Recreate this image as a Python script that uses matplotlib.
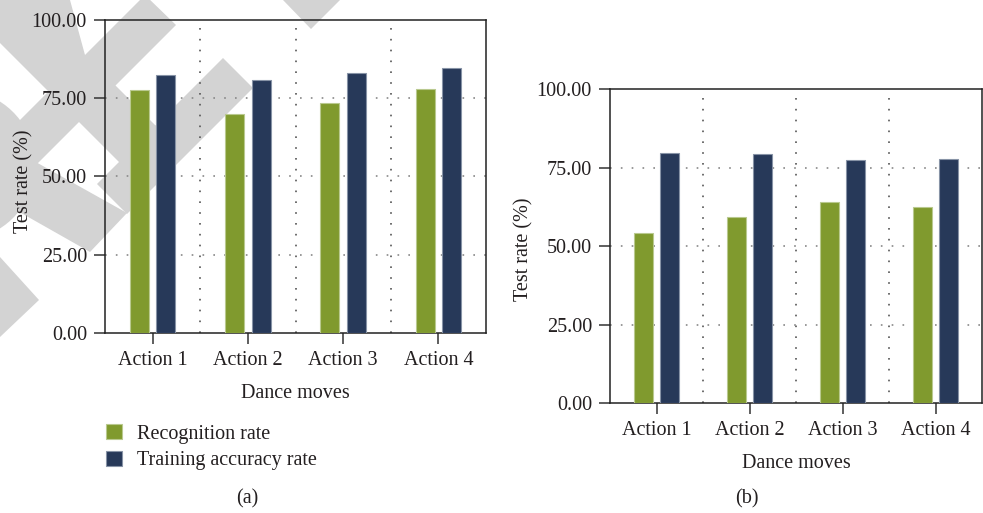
import matplotlib
matplotlib.use("Agg")
import matplotlib.pyplot as plt
import numpy as np
from matplotlib.patches import Polygon
from matplotlib.ticker import FormatStrFormatter

plt.rcParams["font.family"] = ["Liberation Serif", "DejaVu Serif"]

# ---- data ----
actions = ["Action 1", "Action 2", "Action 3", "Action 4"]
recognition_a = [77.6, 69.8, 73.4, 77.8]
training_a = [82.5, 80.7, 83.1, 84.5]
recognition_b = [54.3, 59.3, 64.1, 62.5]
training_b = [79.6, 79.3, 77.4, 77.8]
y_ticks = [0, 25, 50, 75, 100]

GREEN = "#809a2e"
NAVY = "#273959"
GREEN_EDGE = "#b9c98f"
NAVY_EDGE = "#8793a6"
TEXT = "#231f20"
W, H = 983, 513

fig = plt.figure(figsize=(W / 100, H / 100), dpi=100)
fig.patch.set_facecolor("white")

# light grey background stamp (pixel coordinates, y downward)
theta = np.linspace(-np.pi / 2, np.pi / 2, 40)
bulge = [(-40 + 75 * np.cos(t), 165 + 75 * np.sin(t)) for t in theta]
stamp = [
    [(0, 0), (70, 0), (85, 55), (157, 127), (120, 163), (0, 43)],
    [(145, -5), (176, 25), (0, 201), (0, 140)],
    [(223, 58), (253, 88), (127, 214), (97, 184)],
    [(0, 142), (127, 213), (90, 252), (0, 201)],
    [(0, 257), (39, 300), (0, 337)],
    [(283, 0), (311, 29), (340, 0)],
    bulge,
]
for pts in stamp:
    fig.patches.append(Polygon([(x / W, 1 - y / H) for x, y in pts],
                               closed=True, transform=fig.transFigure,
                               facecolor="#d3d3d3", edgecolor="none", zorder=-1))


def panel(rect, rec, train, ylab_x, ylab_y):
    ax = fig.add_axes(rect)
    ax.set_zorder(1)
    ax.patch.set_alpha(0)
    x = np.arange(len(actions))
    ax.bar(x - 0.14, rec, 0.2, color=GREEN, edgecolor=GREEN_EDGE, linewidth=0.8,
           zorder=3, label="Recognition rate")
    ax.bar(x + 0.14, train, 0.2, color=NAVY, edgecolor=NAVY_EDGE, linewidth=0.8,
           zorder=3, label="Training accuracy rate")
    ax.set_xlim(-0.5, len(actions) - 0.5)
    ax.set_ylim(0, 100)
    ax.set_xticks(x)
    ax.set_xticklabels(actions)
    ax.set_yticks(y_ticks)
    ax.yaxis.set_major_formatter(FormatStrFormatter("%.2f"))
    ax.tick_params(axis="both", direction="out", length=8, width=1.1,
                   color="#333333", labelsize=14.5, labelcolor=TEXT, pad=5)
    for s in ax.spines.values():
        s.set_linewidth(1.1)
        s.set_color("#222222")
    # dotted grid between categories and at value ticks
    for xv in x[:-1] + 0.5:
        ax.axvline(xv, color="#555555", linestyle=(0, (1, 5.5)), linewidth=1.2, zorder=1)
    for yv in y_ticks[1:-1]:
        ax.axhline(yv, color="#888888", linestyle=(0, (1, 5.5)), linewidth=1.2, zorder=1)
    ax.set_xlabel("Dance moves", fontsize=14.5, color=TEXT, labelpad=10)
    ax.set_ylabel("Test rate (%)", fontsize=14.5, color=TEXT)
    ax.yaxis.set_label_coords(ylab_x, ylab_y)
    return ax


ax_a = panel([105 / W, 1 - 332.7 / H, 381 / W, 312.7 / H], recognition_a, training_a,
             -0.189, 0.485)
ax_b = panel([610 / W, 1 - 403.3 / H, 372 / W, 314 / H], recognition_b, training_b,
             -0.207, 0.491)

handles, labels = ax_a.get_legend_handles_labels()
fig.legend(handles, labels, loc="upper left", bbox_to_anchor=(106 / W, 1 - 424 / H),
           frameon=False, fontsize=14.5, handlelength=0.8, handleheight=0.8,
           handletextpad=0.75, labelspacing=0.35, borderpad=0, borderaxespad=0,
           labelcolor=TEXT)

fig.text(247 / W, 1 - 499 / H, "(a)", ha="center", va="center", fontsize=14.5, color=TEXT)
fig.text(747 / W, 1 - 499 / H, "(b)", ha="center", va="center", fontsize=14.5, color=TEXT)

fig.savefig("out.png", dpi=100, facecolor="white")
